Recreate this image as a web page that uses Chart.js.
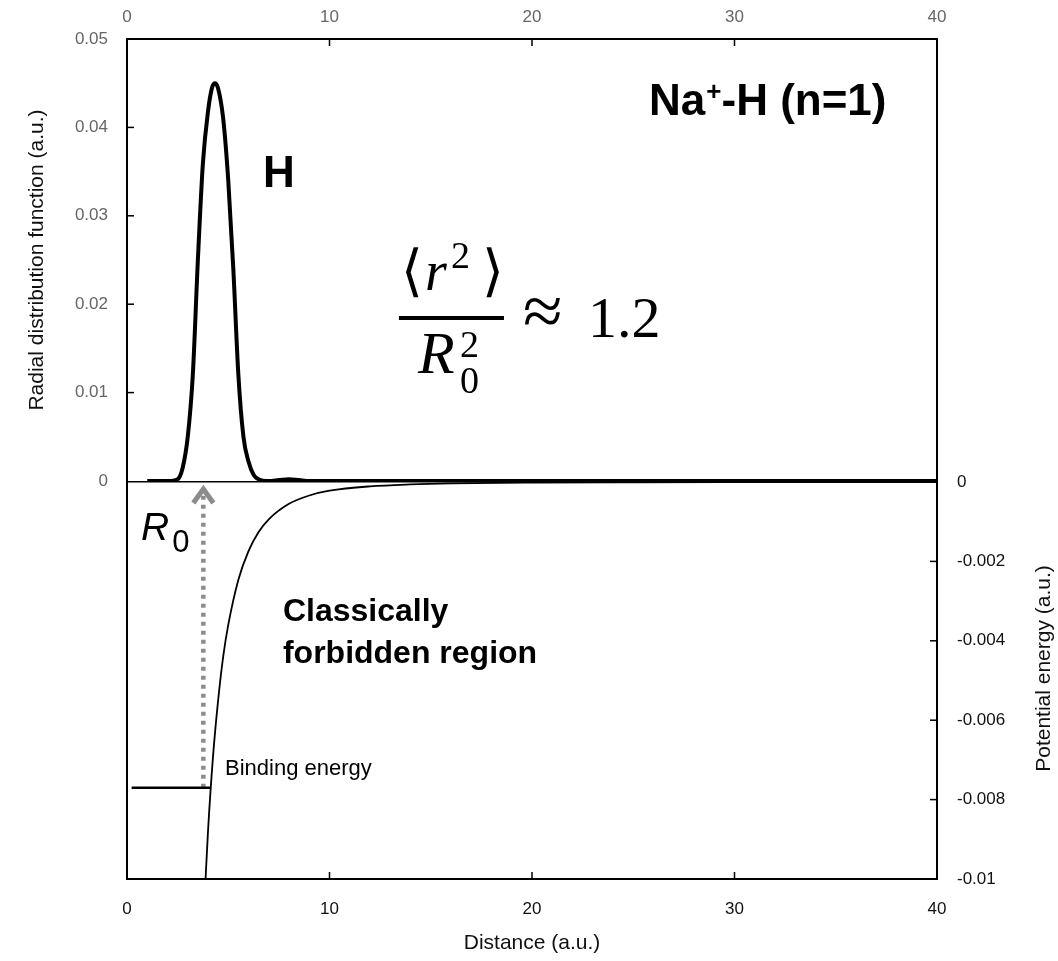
<!DOCTYPE html>
<html>
<head>
<meta charset="utf-8">
<title>Na+-H (n=1)</title>
<script src="https://cdn.jsdelivr.net/npm/chart.js@4"></script>
<style>
  html, body { margin: 0; padding: 0; background: #fff; }
  #wrap { position: relative; width: 1058px; height: 961px; }
  .panel { position: absolute; left: 0; width: 1058px; }
  #top-panel { top: 0; height: 500px; }
  #bottom-panel { top: 462px; height: 499px; }
</style>
</head>
<body>
<div id="wrap">
  <div class="panel" id="bottom-panel"><canvas id="bottom-chart" width="1058" height="499"></canvas></div>
  <div class="panel" id="top-panel"><canvas id="top-chart" width="1058" height="500"></canvas></div>
</div>
<script>
(function () {
  "use strict";

  // ── Data ──
  const distanceTicks = [0, 10, 20, 30, 40];
  const radialTicks = [0, 0.01, 0.02, 0.03, 0.04, 0.05];
  const energyTicks = [0, -0.002, -0.004, -0.006, -0.008, -0.01];

  // radial distribution function of H (top panel)
  const rdfX = [1, 1.5, 2, 2.5, 2.75, 3, 3.25, 3.5, 3.75, 4, 4.2, 4.35, 4.5, 4.75, 5, 5.25, 5.5, 5.75, 6, 6.25, 6.5, 7, 7.5, 8, 8.5, 9, 10, 12, 15, 20, 30, 40];
  const rdfY = [0, 0, 0, 0.0002, 0.0015, 0.005, 0.012, 0.025, 0.036, 0.0418, 0.0445, 0.045, 0.0444, 0.041, 0.034, 0.024, 0.012, 0.005, 0.0022, 0.0007, 0.0002, 0, 0.0001, 0.0002, 0.0001, 0, 0, 0, 0, 0, 0, 0];

  // potential energy curve (bottom panel)
  const potX = [3.85, 4, 4.25, 4.5, 4.75, 5, 5.5, 6, 6.5, 7, 8, 9, 10, 12, 14, 16, 20, 25, 30, 40];
  const potY = [-0.0103, -0.0088, -0.0069, -0.0055, -0.0044, -0.0036, -0.00246, -0.00174, -0.00126, -0.00094, -0.00055, -0.00034, -0.00022, -0.00011, -0.00006, -0.000034, -0.000014, -0.000006, -0.000003, -0.000001];

  // binding energy level and R0
  const bindingEnergy = -0.0077;
  const bindingX = [0.23, 4.1];
  const r0 = 3.77;
  const arrowTop = -0.00015;

  const SANS = '"Liberation Sans", Arial, Helvetica, sans-serif';
  const SERIF = '"Liberation Serif", "DejaVu Serif", serif';
  Chart.defaults.font.family = SANS;

  function pairs(xs, ys) {
    return xs.map(function (x, i) { return { x: x, y: ys[i] }; });
  }

  function fixedTicks(values) {
    return function (scale) {
      scale.ticks = values.map(function (v) { return { value: v }; });
    };
  }

  // fixed axis size, no extra room for labels at the ends
  function fitWidth(w) {
    return function (s) { s.width = w; s.paddingTop = 0; s.paddingBottom = 0; };
  }
  function fitHeight(h) {
    return function (s) { s.height = h; s.paddingLeft = 0; s.paddingRight = 0; };
  }

  // ── Plugin: tick marks pointing into the plot ──
  const inwardTicks = {
    id: "inwardTicks",
    afterDraw: function (chart, args, opts) {
      const area = chart.chartArea;
      const ctx = chart.ctx;
      ctx.save();
      ctx.strokeStyle = "#000";
      ctx.lineWidth = 1.5;
      (opts.marks || []).forEach(function (m) {
        const scale = chart.scales[m.axis];
        scale.ticks.forEach(function (t) {
          if (t.value === scale.min || t.value === scale.max) return;
          const p = scale.getPixelForValue(t.value);
          ctx.beginPath();
          if (m.side === "top") { ctx.moveTo(p, area.top); ctx.lineTo(p, area.top + 7); }
          if (m.side === "bottom") { ctx.moveTo(p, area.bottom); ctx.lineTo(p, area.bottom - 7); }
          if (m.side === "left") { ctx.moveTo(area.left, p); ctx.lineTo(area.left + 7, p); }
          if (m.side === "right") { ctx.moveTo(area.right, p); ctx.lineTo(area.right - 7, p); }
          ctx.stroke();
        });
      });
      ctx.restore();
    }
  };

  function text(ctx, str, x, y, font) {
    ctx.font = font;
    ctx.fillText(str, x, y);
    return ctx.measureText(str).width;
  }

  // ── Plugin: labels of the top panel ──
  const topNotes = {
    id: "topNotes",
    afterDraw: function (chart) {
      const ctx = chart.ctx;
      const xs = chart.scales.x, ys = chart.scales.y;
      ctx.save();
      ctx.fillStyle = "#000";
      ctx.textAlign = "left";
      ctx.textBaseline = "alphabetic";

      text(ctx, "H", xs.getPixelForValue(6.72), ys.getPixelForValue(0.0333), "bold 44px " + SANS);

      // Na+-H (n=1)
      let x = xs.getPixelForValue(25.78);
      const y = ys.getPixelForValue(0.0414);
      x += text(ctx, "Na", x, y, "bold 44px " + SANS);
      x += text(ctx, "+", x + 1, y - 15, "bold 26px " + SANS) + 1;
      text(ctx, "-H (n=1)", x, y, "bold 44px " + SANS);

      // <r^2> / R0^2 ≈ 1.2
      const ax = xs.getPixelForValue(13.43);
      const ay = ys.getPixelForValue(0.01844);
      text(ctx, "\u27E8", ax + 2, ay - 28, "56px " + SERIF);
      text(ctx, "r", ax + 26, ay - 28, "italic 56px " + SERIF);
      text(ctx, "2", ax + 52, ay - 50, "38px " + SERIF);
      text(ctx, "\u27E9", ax + 83, ay - 28, "56px " + SERIF);
      ctx.fillRect(ax, ay - 2, 105, 4);
      text(ctx, "R", ax + 19, ay + 55, "italic 60px " + SERIF);
      text(ctx, "2", ax + 61, ay + 39, "38px " + SERIF);
      text(ctx, "0", ax + 61, ay + 75, "38px " + SERIF);
      text(ctx, "\u2248", ax + 124, ay + 17, "72px " + SERIF);
      text(ctx, "1.2", ax + 189, ay + 19, "58px " + SERIF);
      ctx.restore();
    }
  };

  // ── Plugin: labels, arrow head and right title of the bottom panel ──
  const bottomNotes = {
    id: "bottomNotes",
    afterDraw: function (chart) {
      const ctx = chart.ctx;
      const xs = chart.scales.x, ys = chart.scales.y;
      ctx.save();
      ctx.fillStyle = "#000";
      ctx.textAlign = "left";
      ctx.textBaseline = "alphabetic";

      const rx = xs.getPixelForValue(0.69), ry = ys.getPixelForValue(-0.00146);
      const w = text(ctx, "R", rx, ry, "italic 39px " + SANS);
      text(ctx, "0", rx + w + 3, ry + 12, "31px " + SANS);

      const cx = xs.getPixelForValue(7.7), cy = ys.getPixelForValue(-0.0035);
      text(ctx, "Classically", cx, cy, "bold 32px " + SANS);
      text(ctx, "forbidden region", cx, cy + 42, "bold 32px " + SANS);

      text(ctx, "Binding energy", xs.getPixelForValue(4.84), ys.getPixelForValue(-0.00738), "22px " + SANS);

      // arrow head on the dotted R0 line
      const meta = chart.getDatasetMeta(2);
      const tip = meta.data[meta.data.length - 1];
      ctx.strokeStyle = "#8c8c8c";
      ctx.lineWidth = 5;
      ctx.lineJoin = "miter";
      ctx.beginPath();
      ctx.moveTo(tip.x - 10, tip.y + 15);
      ctx.lineTo(tip.x, tip.y + 1);
      ctx.lineTo(tip.x + 10, tip.y + 15);
      ctx.stroke();

      // right axis title, reading bottom to top
      ctx.translate(1044, (ys.top + ys.bottom) / 2 - 12);
      ctx.rotate(-Math.PI / 2);
      ctx.textAlign = "center";
      ctx.textBaseline = "middle";
      ctx.fillStyle = "#111";
      ctx.font = "21px " + SANS;
      ctx.fillText("Potential energy (a.u.)", 0, 0);
      ctx.restore();
    }
  };

  const hidden = { display: false };

  // ── Chart: radial distribution (top) ──
  new Chart(document.getElementById("top-chart"), {
    type: "line",
    data: {
      datasets: [{
        data: pairs(rdfX, rdfY),
        borderColor: "#000",
        borderWidth: 4,
        pointRadius: 0,
        cubicInterpolationMode: "monotone",
        fill: false,
      }],
    },
    options: {
      responsive: false,
      animation: false,
      layout: { padding: { bottom: 19 } },
      plugins: {
        legend: hidden,
        tooltip: { enabled: false },
        inwardTicks: { marks: [{ axis: "x", side: "top" }, { axis: "y", side: "left" }] },
      },
      scales: {
        x: {
          type: "linear",
          position: "top",
          min: 0, max: 40,
          afterBuildTicks: fixedTicks(distanceTicks),
          afterFit: fitHeight(39),
          grid: hidden,
          border: { display: true, color: "#000", width: 2 },
          ticks: { color: "#666", font: { size: 17 }, padding: 3, maxRotation: 0 },
        },
        y: {
          position: "left",
          min: 0, max: 0.05,
          afterBuildTicks: fixedTicks(radialTicks),
          afterFit: fitWidth(127),
          grid: hidden,
          border: { display: true, color: "#000", width: 2 },
          ticks: { color: "#666", font: { size: 17 }, padding: 11, callback: function (v) { return String(v); } },
          title: { display: true, text: "Radial distribution function (a.u.)", color: "#111", font: { size: 21 }, padding: { top: 25 } },
        },
        yR: {
          position: "right",
          min: 0, max: 0.05,
          afterFit: fitWidth(121),
          grid: hidden,
          ticks: hidden,
          border: { display: true, color: "#000", width: 2 },
        },
      },
    },
    plugins: [inwardTicks, topNotes],
  });

  // ── Chart: potential energy (bottom) ──
  new Chart(document.getElementById("bottom-chart"), {
    type: "line",
    data: {
      datasets: [{
        data: pairs(potX, potY),
        borderColor: "#000",
        borderWidth: 1.8,
        pointRadius: 0,
        cubicInterpolationMode: "monotone",
        fill: false,
      }, {
        data: pairs(bindingX, [bindingEnergy, bindingEnergy]),
        borderColor: "#000",
        borderWidth: 2.5,
        pointRadius: 0,
        fill: false,
      }, {
        data: pairs([r0, r0], [bindingEnergy, arrowTop]),
        borderColor: "#8c8c8c",
        borderWidth: 4.5,
        borderDash: [4, 5],
        borderCapStyle: "butt",
        pointRadius: 0,
        fill: false,
      }],
    },
    options: {
      responsive: false,
      animation: false,
      layout: { padding: { top: 20 } },
      plugins: {
        legend: hidden,
        tooltip: { enabled: false },
        inwardTicks: { marks: [{ axis: "x", side: "bottom" }, { axis: "y", side: "right" }] },
      },
      scales: {
        x: {
          type: "linear",
          position: "bottom",
          min: 0, max: 40,
          afterBuildTicks: fixedTicks(distanceTicks),
          afterFit: fitHeight(82),
          grid: hidden,
          border: { display: true, color: "#000", width: 2 },
          ticks: { color: "#111", font: { size: 17 }, padding: 12, maxRotation: 0 },
          title: { display: true, text: "Distance (a.u.)", color: "#111", font: { size: 21 }, padding: { top: 0, bottom: 5 } },
        },
        xT: {
          type: "linear",
          position: "top",
          min: 0, max: 40,
          afterFit: fitHeight(0),
          grid: hidden,
          ticks: hidden,
          border: { display: true, color: "#000", width: 1.5 },
        },
        y: {
          position: "right",
          min: -0.01, max: 0,
          afterBuildTicks: fixedTicks(energyTicks),
          afterFit: fitWidth(121),
          grid: hidden,
          border: { display: true, color: "#000", width: 2 },
          ticks: { color: "#111", font: { size: 17 }, padding: 12, callback: function (v) { return String(v); } },
        },
        yL: {
          position: "left",
          min: -0.01, max: 0,
          afterFit: fitWidth(127),
          grid: hidden,
          ticks: hidden,
          border: { display: true, color: "#000", width: 2 },
        },
      },
    },
    plugins: [inwardTicks, bottomNotes],
  });
})();
</script>
</body>
</html>
